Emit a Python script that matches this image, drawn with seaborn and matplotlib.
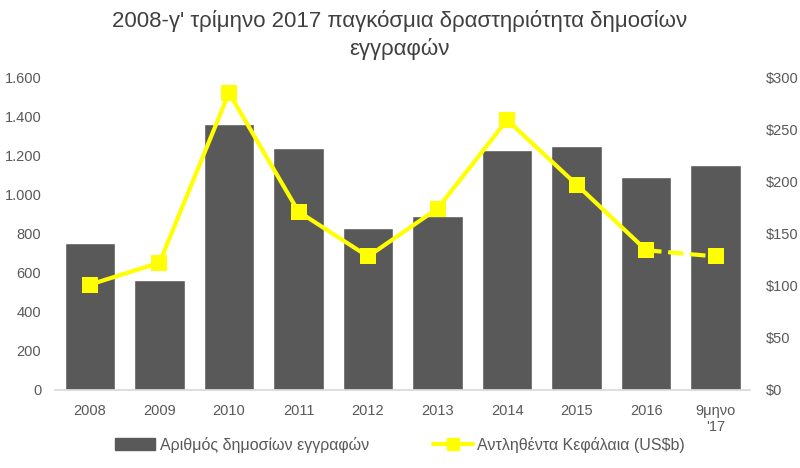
import numpy as np
import pandas as pd
import seaborn as sns
import matplotlib
matplotlib.use('Agg')
import matplotlib.pyplot as plt
from matplotlib.ticker import FuncFormatter
from matplotlib.lines import Line2D
from matplotlib.patches import Patch

# data
years = ['2008', '2009', '2010', '2011', '2012', '2013', '2014', '2015', '2016', "9μηνο\n'17"]
listings = [750, 560, 1360, 1240, 830, 890, 1230, 1250, 1090, 1150]
capital = [101, 122, 285, 171, 128, 174, 259, 197, 134, 128]

bar_label = 'Αριθμός δημοσίων εγγραφών'
line_label = 'Αντληθέντα Κεφάλαια (US$b)'
title = "2008-γ' τρίμηνο 2017 παγκόσμια δραστηριότητα δημοσίων\nεγγραφών"

sns.set_theme(style='white')
plt.rcParams['font.family'] = ['Liberation Sans', 'DejaVu Sans']

grey = '#595959'
yellow = '#FFFF00'

df = pd.DataFrame({'year': years, 'listings': listings, 'capital': capital})
df['pos'] = np.arange(len(df))

fig = plt.figure(figsize=(8, 4.68), dpi=100)
ax = fig.add_axes([0.069, 0.167, 0.869, 0.668])

sns.barplot(data=df, x='year', y='listings', color=grey, saturation=1,
            width=0.73, ax=ax)
ax.set_xlim(-0.5, len(df) - 0.5)
ax.set_ylim(0, 1600)
ax.set_yticks(range(0, 1601, 200))
ax.yaxis.set_major_formatter(FuncFormatter(lambda v, p: f'{int(v):,}'.replace(',', '.')))
ax.set_xlabel('')
ax.set_ylabel('')

# line: solid up to 2016, dashed for the 9-month figure
ax2 = ax.twinx()
solid = df.iloc[:-1]
dashed = df.iloc[-2:]
sns.lineplot(data=solid, x='pos', y='capital', color=yellow, lw=3, marker='s',
             markersize=11, markeredgewidth=0, ax=ax2)
sns.lineplot(data=dashed, x='pos', y='capital', color=yellow, lw=3, ls='--',
             marker='s', markersize=11, markeredgewidth=0, ax=ax2)
ax2.set_ylim(0, 300)
ax2.set_yticks(range(0, 301, 50))
ax2.yaxis.set_major_formatter(FuncFormatter(lambda v, p: f'\\${int(v)}'))
ax2.set_ylabel('')
ax2.set_xlabel('')

for a in (ax, ax2):
    for s in a.spines.values():
        s.set_visible(False)
    a.tick_params(colors=grey, labelsize=10.5, length=0)
ax.spines['bottom'].set_visible(True)
ax.spines['bottom'].set_color('#d9d9d9')
ax.tick_params(axis='x', pad=10)
ax.tick_params(axis='y', pad=10)
ax2.tick_params(axis='y', pad=11)

fig.suptitle(title, fontsize=16, color='#404040', y=0.978, linespacing=1.35)

handles = [Patch(color=grey),
           Line2D([0], [0], color=yellow, lw=3, marker='s', markersize=9)]
fig.legend(handles, [bar_label, line_label], loc='center', bbox_to_anchor=(0.5, 0.05),
           ncol=2, frameon=False, fontsize=11.5, labelcolor=grey, handlelength=2.5,
           handletextpad=0.3, columnspacing=4)

fig.savefig('out.png', dpi=100)
